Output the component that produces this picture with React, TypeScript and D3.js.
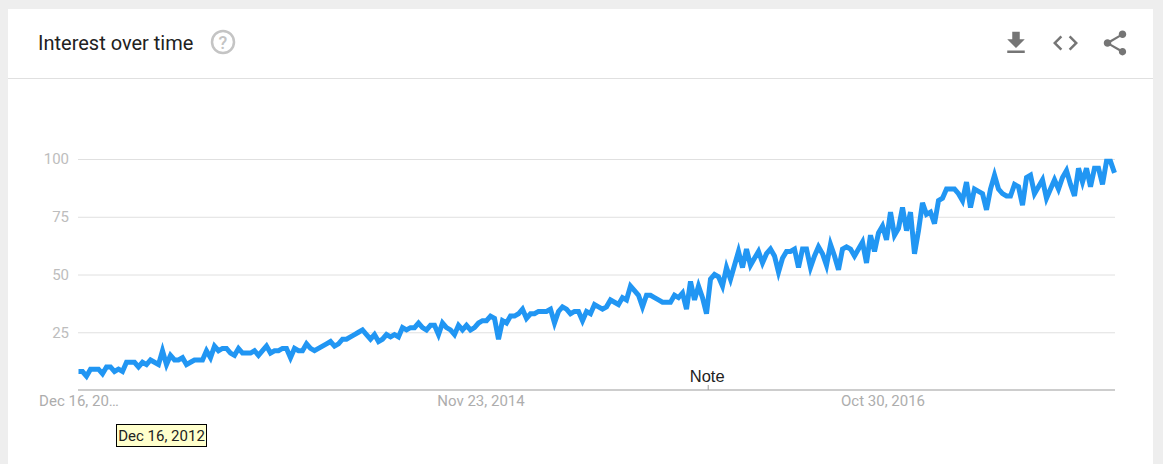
import React, { useEffect, useRef } from 'react';
import * as d3 from 'd3';

// weekly interest
const interest2013 = [8, 8, 6, 9, 9, 9, 7, 10, 10, 8, 9, 8, 12, 12, 12, 10, 12, 11, 13, 12, 11, 17, 11, 15, 13, 13, 14, 11, 12, 13, 13, 13, 17, 14, 19, 17, 18, 18, 16, 15, 18, 16, 16, 16, 17, 15, 17, 19, 16, 17, 17, 18, 18, 14, 18, 17, 17, 20, 18, 17, 18, 19, 20, 21, 19, 20];
const interest2014 = [22, 22, 23, 24, 25, 26, 24, 22, 24, 21, 22, 24, 23, 24, 23, 27, 26, 27, 27, 29, 27, 26, 28, 28, 24, 29, 27, 26, 24, 28, 26, 28, 26, 27, 29, 30, 30, 32, 31, 22, 30, 29, 32, 32, 33, 35, 31, 33, 33, 34, 34, 34, 35, 29, 34, 36, 35, 33, 34, 34, 30, 34, 33, 37, 36, 35, 36, 39, 38, 37];
const interest2015 = [40, 39, 45, 43, 41, 36, 41, 41, 40, 39, 38, 38, 38, 41, 40, 42, 35, 47, 39, 45, 40, 33, 48, 50, 49, 45, 53, 48, 54, 60, 53, 61, 54, 57, 60, 55, 59, 61, 58, 51, 57, 60, 60, 61, 53, 61, 61, 53, 58, 62, 59, 54, 63, 58, 52, 61, 62, 61, 58, 61];
const interest2016 = [64, 55, 67, 60, 68, 71, 65, 77, 67, 70, 79, 69, 77, 59, 69, 81, 76, 77, 72, 82, 83, 87, 87, 87, 85, 82, 90, 79, 87, 86, 85, 78, 87, 93, 87, 85, 84, 84, 89, 88, 80, 92, 93, 85, 88, 91, 83, 87, 91, 87, 92, 95, 89, 84, 96, 90, 96, 88, 96, 96, 89, 99, 99, 94];
const interest = [...interest2013, ...interest2014, ...interest2015, ...interest2016];

const startDate = new Date(Date.UTC(2012, 11, 16));
const weeks = interest.map((_, i) => d3.utcWeek.offset(startDate, i));

const yTicks = [25, 50, 75, 100];
const xTickDates = [startDate, new Date(Date.UTC(2014, 10, 23)), new Date(Date.UTC(2016, 9, 30))];
const xTickLabels = ['Dec 16, 20…', 'Nov 23, 2014', 'Oct 30, 2016'];
const noteDate = new Date(Date.UTC(2015, 11, 23));

const title = 'Interest over time';
const noteLabel = 'Note';
const tooltipLabel = 'Dec 16, 2012';

const W = 1163;
const H = 464;
const FONT = 'Roboto, sans-serif';

const App = () => {
  const svgRef = useRef<SVGSVGElement>(null);

  useEffect(() => {
    const svg = d3.select(svgRef.current);
    svg.selectAll('*').remove();

    const x = d3.scaleUtc().domain([weeks[0], weeks[weeks.length - 1]]).range([78.5, 1114.5]);
    const y = d3.scaleLinear().domain([0, 100]).range([390, 159]);

    // page and card
    svg.append('rect').attr('width', W).attr('height', H).attr('fill', '#eeeeee');
    svg.append('rect').attr('x', 8).attr('y', 9).attr('width', 1145).attr('height', H - 9).attr('fill', '#fff');
    svg.append('line').attr('x1', 8).attr('x2', 1153).attr('y1', 78.5).attr('y2', 78.5).attr('stroke', '#e0e0e0');

    // header
    svg.append('text').attr('x', 38).attr('y', 50).attr('font-family', FONT).attr('font-size', 20)
      .attr('fill', '#212121').text(title);
    svg.append('circle').attr('cx', 223).attr('cy', 42).attr('r', 11).attr('fill', 'none')
      .attr('stroke', '#c4c4c4').attr('stroke-width', 2.5);
    svg.append('text').attr('x', 223).attr('y', 48.5).attr('text-anchor', 'middle').attr('font-family', FONT)
      .attr('font-size', 18).attr('font-weight', 500).attr('fill', '#c4c4c4').text('?');

    const icons = [
      { at: [1001, 28], d: 'M19 9h-4V3H9v6H5l7 7 7-7zM5 18v2h14v-2H5z' },
      { at: [1050.5, 28], d: 'M9.4 16.6L4.8 12l4.6-4.6L8 6l-6 6 6 6 1.4-1.4zm5.2 0l4.6-4.6-4.6-4.6L16 6l6 6-6 6-1.4-1.4z' },
      { at: [1100, 28], d: 'M18 16.08c-.76 0-1.44.3-1.96.77L8.91 12.7c.05-.23.09-.46.09-.7s-.04-.47-.09-.7l7.05-4.11c.54.5 1.25.81 2.04.81 1.66 0 3-1.34 3-3s-1.34-3-3-3-3 1.34-3 3c0 .24.04.47.09.7L8.04 9.81C7.5 9.31 6.79 9 6 9c-1.66 0-3 1.34-3 3s1.34 3 3 3c.79 0 1.5-.31 2.04-.81l7.12 4.16c-.05.21-.08.43-.08.65 0 1.61 1.31 2.92 2.92 2.92 1.61 0 2.92-1.31 2.92-2.92s-1.31-2.92-2.92-2.92z' },
    ];
    icons.forEach(icon => {
      svg.append('path').attr('transform', `translate(${icon.at[0]},${icon.at[1]}) scale(1.25)`)
        .attr('d', icon.d).attr('fill', '#757575');
    });

    // y axis with gridlines
    const yAxis = svg.append('g').attr('transform', 'translate(78,0)')
      .call(d3.axisLeft(y).tickValues(yTicks).tickSize(-1037).tickPadding(9));
    yAxis.select('.domain').remove();
    yAxis.selectAll('.tick line').attr('stroke', '#e0e0e0');
    yAxis.selectAll('.tick text').attr('fill', '#bdbdbd').attr('font-family', FONT).attr('font-size', 15);

    // x axis, labels sit slightly left of their weeks in the original
    const xAxis = svg.append('g').attr('transform', 'translate(0,390)')
      .call(d3.axisBottom(x).tickValues(xTickDates).tickSize(0).tickPadding(5)
        .tickFormat((_, i) => xTickLabels[i]));
    xAxis.select('.domain').remove();
    xAxis.selectAll('.tick text').attr('fill', '#adadad').attr('font-family', FONT).attr('font-size', 15)
      .attr('dx', (_, i) => -2 * i);
    svg.append('line').attr('x1', 78).attr('x2', 1115).attr('y1', 390).attr('y2', 390)
      .attr('stroke', '#bdbdbd').attr('stroke-width', 1.5);

    // note marker
    svg.append('line').attr('x1', x(noteDate)).attr('x2', x(noteDate)).attr('y1', 385).attr('y2', 390)
      .attr('stroke', '#9e9e9e');
    svg.append('text').attr('x', x(noteDate) - 1).attr('y', 382).attr('text-anchor', 'middle')
      .attr('font-family', '"Liberation Sans", Arial, sans-serif').attr('font-size', 16.5).attr('fill', '#222')
      .text(noteLabel);

    // series
    const line = d3.line<number>().x((_, i) => x(weeks[i])).y(d => y(d));
    svg.append('path').datum(interest).attr('fill', 'none').attr('stroke', '#2196f3')
      .attr('stroke-width', 5).attr('stroke-linejoin', 'miter').attr('d', line);

    // tooltip
    svg.append('rect').attr('x', 116.5).attr('y', 424.5).attr('width', 90).attr('height', 22)
      .attr('fill', '#ffffcc').attr('stroke', '#000');
    svg.append('text').attr('x', 161.5).attr('y', 441).attr('text-anchor', 'middle').attr('font-family', FONT)
      .attr('font-size', 15).attr('fill', '#222').text(tooltipLabel);
  }, []);

  return <svg ref={svgRef} width={W} height={H} style={{ position: 'absolute', left: 0, top: 0, display: 'block' }} />;
};

export default App;
